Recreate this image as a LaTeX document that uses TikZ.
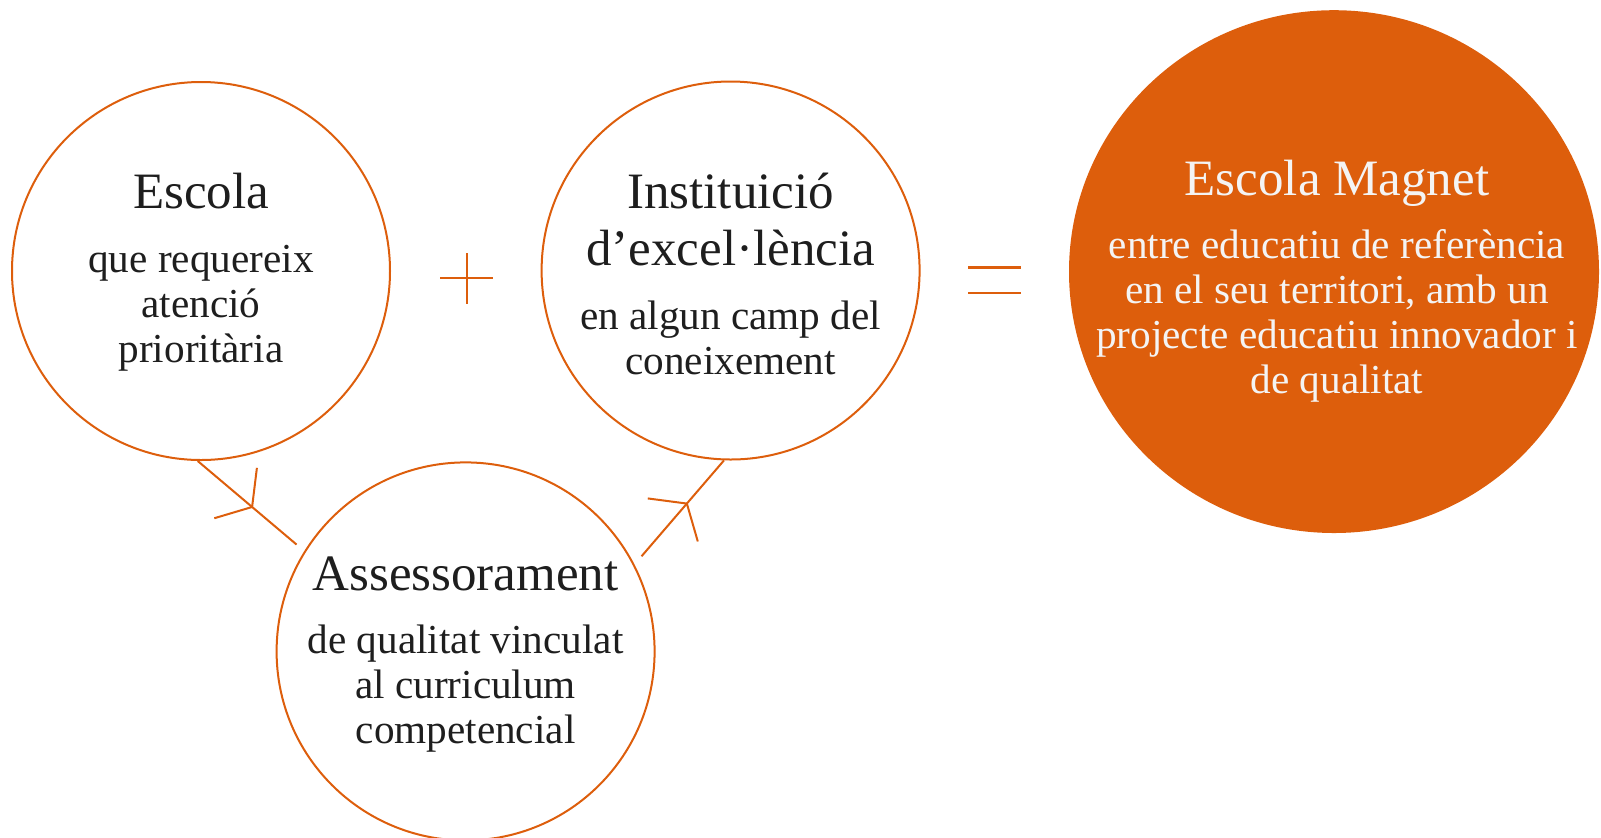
\documentclass[tikz,border=0pt]{standalone}
\usepackage{fontspec}
\setmainfont{Liberation Serif}
\usetikzlibrary{arrows.meta, decorations.markings, shapes.geometric}
\definecolor{magnetorange}{RGB}{221,94,12}
\definecolor{inkgray}{RGB}{30,30,30}
\definecolor{paleink}{RGB}{244,244,244}

\begin{document}
\begin{tikzpicture}[x=0.5pt, y=0.5pt,
  ring/.style={circle, draw=magnetorange, line width=1pt, minimum size=189pt, inner sep=0pt},
  hub/.style={ellipse, fill=magnetorange, minimum width=265pt, minimum height=261.4pt, inner sep=0pt},
  headtxt/.style={font=\fontsize{25.5}{28.6}\selectfont, text=inkgray, align=center},
  bodytxt/.style={font=\fontsize{20.6}{22.5}\selectfont, text=inkgray, align=center},
  sign/.style={magnetorange, line width=1.1pt},
  link/.style={magnetorange, line width=1pt, postaction={decorate},
    decoration={markings, mark=at position 0.56 with {\arrow{Straight Barb[length=10.8pt, width=33pt, line width=1pt]}}}}]
\useasboundingbox (0,0) rectangle (1601,-837);

% the four circles
\node [ring] (escola) at (201,-271) {};
\node [ring] (institut) at (730.6,-270.5) {};
\node [ring] (assess) at (465.6,-651.4) {};
\node [hub] (magnet) at (1334,-271.6) {};

% texts
\node [headtxt] (escolaT) at (201,-191) {Escola};
\node [bodytxt] (escolaB) at (201,-308.5) {que requereix\\atenció\\prioritària};

\node [headtxt] (institutT) at (730.6,-219.5) {Instituició\\d’excel·lència};
\node [bodytxt] (institutB) at (730.6,-338) {en algun camp del\\coneixement};

\node [headtxt] (assessT) at (465.6,-573.9) {Assessorament};
\node [bodytxt] (assessB) at (465.6,-688.5) {de qualitat vinculat\\al curriculum\\competencial};

\node [headtxt, text=paleink] (magnetT) at (1337,-183) {Escola Magnet};
\node [bodytxt, text=paleink] (magnetB) at (1337,-316) {entre educatiu de referència\\en el seu territori, amb un\\projecte educatiu innovador i\\de qualitat};

% plus and equals
\draw [sign] (440,-277.7) -- (493.2,-277.7) (466.6,-253.2) -- (466.6,-304.3);
\draw [sign] (968,-267.5) -- (1021,-267.5) (968,-293) -- (1021,-293);

% links
\path (assess.center) ++(147.7:200) coordinate (intoAssess);
\path (assess.center) ++(28.4:200) coordinate (outofAssess);
\draw [link] (escola.-91) -- (intoAssess);
\draw [link] (outofAssess) -- (institut.-92);

\end{tikzpicture}
\end{document}
